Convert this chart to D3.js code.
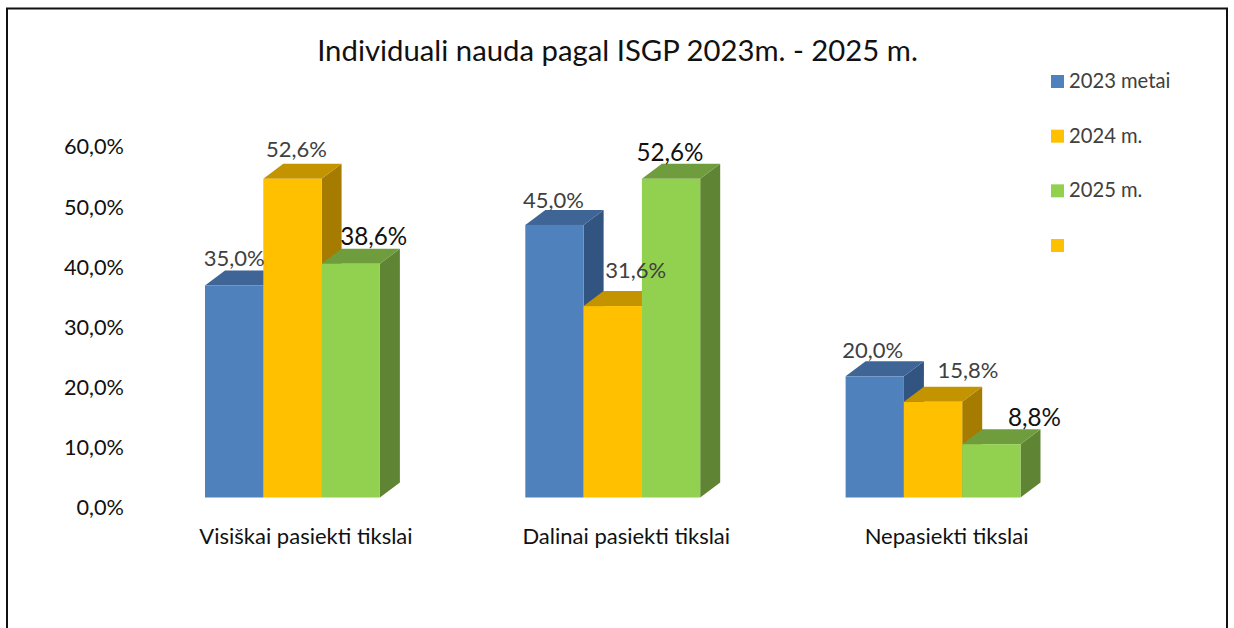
<!DOCTYPE html>
<html>
<head>
<meta charset="utf-8">
<style>
html, body { margin: 0; padding: 0; background: #fff; }
svg { display: block; }
text { font-family: Lato, "Open Sans", sans-serif; }
</style>
<script src="https://cdn.jsdelivr.net/npm/d3@7"></script>
</head>
<body>
<svg id="chart" width="1234" height="628"></svg>
<script>
var categories = ["Visiškai pasiekti tikslai", "Dalinai pasiekti tikslai", "Nepasiekti tikslai"];
var series_names = ["2023 metai", "2024 m.", "2025 m."];
var values_2023 = [35.0, 45.0, 20.0];
var values_2024 = [52.6, 31.6, 15.8];
var values_2025 = [38.6, 52.6, 8.8];
var value_labels_2023 = ["35,0%", "45,0%", "20,0%"];
var value_labels_2024 = ["52,6%", "31,6%", "15,8%"];
var value_labels_2025 = ["38,6%", "52,6%", "8,8%"];
var y_ticks = [0, 10, 20, 30, 40, 50, 60];

var svg = d3.select("svg#chart");

// the picture's frame, open at the bottom
svg.append("path")
	.attr("d", "M7,628V8.5H1227V628")
	.attr("fill", "none")
	.attr("stroke", "#111")
	.attr("stroke-width", 2);

svg.append("text")
	.attr("x", 617.5)
	.attr("y", 61)
	.attr("text-anchor", "middle")
	.attr("font-size", 29.3)
	.attr("fill", "#111")
	.text("Individuali nauda pagal ISGP 2023m. - 2025 m.");

var colors = [
	{front: "#4f81bd", top: "#3e6595", side: "#325481"},
	{front: "#ffc000", top: "#c39300", side: "#a57c00"},
	{front: "#92d050", top: "#6f9d3d", side: "#5f8534"}
];
var legend_colors = ["#4f81bd", "#ffc000", "#92d050", "#ffc000"];
var depth_x = 20, depth_y = 15;

var x_group = d3.scaleBand().domain(categories).range([205, 1020.5]).paddingInner(0.454);
var x_bar = d3.scaleBand().domain(series_names).range([0, x_group.bandwidth()]);
var y_bar = d3.scaleLinear().domain([0, 60]).range([497.5, 134]);
// labels on the value axis sit lower than the bars' floor, as in 3D charts
var y_axis_scale = d3.scaleLinear().domain([0, 60]).range([508, 147]);

var axis_y = svg.append("g")
	.attr("transform", "translate(132,0)")
	.call(d3.axisLeft(y_axis_scale)
		.tickValues(y_ticks)
		.tickSize(0)
		.tickPadding(8)
		.tickFormat(function(d) { return d.toFixed(1).replace(".", ",") + "%"; }));
axis_y.select(".domain").remove();
axis_y.selectAll("text").attr("font-size", 21.7).attr("fill", "#111").style("font-family", "Lato");

var axis_x = svg.append("g")
	.attr("transform", "translate(13.5,520)")
	.call(d3.axisBottom(x_group).tickSize(0).tickPadding(8));
axis_x.select(".domain").remove();
axis_x.selectAll("text").attr("font-size", 22).attr("fill", "#111").style("font-family", "Lato");

var all_values = [values_2023, values_2024, values_2025];
var all_labels = [value_labels_2023, value_labels_2024, value_labels_2025];

// hand placed data labels of the original, dx/dy from the middle of the bar's top edge
var label_shift = [
	[[0, -27], [-1, -25], [-2, -26]],
	[[4, -30], [23, -36], [35, -31]],
	[[23, -27], [-1, -26], [43, -27]]
];

function poly(pts) {
	return "M" + pts.map(function(p) { return p[0] + "," + p[1]; }).join("L") + "Z";
}

categories.forEach(function(cat, c) {
	var g = svg.append("g").attr("class", "group");
	series_names.forEach(function(name, s) {
		var v = all_values[s][c];
		var x0 = x_group(cat) + x_bar(name);
		var x1 = x0 + x_bar.bandwidth();
		var y0 = y_bar(0);
		var y1 = y_bar(v);
		g.append("path")
			.attr("d", poly([[x1, y1], [x1 + depth_x, y1 - depth_y], [x1 + depth_x, y0 - depth_y], [x1, y0]]))
			.attr("fill", colors[s].side);
		g.append("path")
			.attr("d", poly([[x0, y1], [x0 + depth_x, y1 - depth_y], [x1 + depth_x, y1 - depth_y], [x1, y1]]))
			.attr("fill", colors[s].top);
		g.append("rect")
			.attr("x", x0)
			.attr("y", y1)
			.attr("width", x1 - x0)
			.attr("height", y0 - y1)
			.attr("fill", colors[s].front);
	});
});

// data labels go last, some of them lie over the bars
categories.forEach(function(cat, c) {
	series_names.forEach(function(name, s) {
		var shift = label_shift[s][c];
		svg.append("text")
			.attr("x", x_group(cat) + x_bar(name) + x_bar.bandwidth() / 2 + shift[0])
			.attr("y", y_bar(all_values[s][c]) + shift[1])
			.attr("dy", "0.35em")
			.attr("text-anchor", "middle")
			.attr("font-size", s == 2 ? 24.2 : 22)
			.attr("fill", s == 2 ? "#111" : "#404040")
			.text(all_labels[s][c]);
	});
});

// legend, the last entry has no name in the original
var legend_names = series_names.concat([""]);
var legend_y = d3.scalePoint().domain(d3.range(4)).range([81.5, 245.5]);
legend_names.forEach(function(name, i) {
	svg.append("rect")
		.attr("x", 1051)
		.attr("y", legend_y(i) - 6.5)
		.attr("width", 13)
		.attr("height", 13)
		.attr("fill", legend_colors[i]);
	svg.append("text")
		.attr("x", 1069)
		.attr("y", legend_y(i) - 0.5)
		.attr("dy", "0.35em")
		.attr("font-size", 20.2)
		.attr("fill", "#404040")
		.text(name);
});
</script>
</body>
</html>
